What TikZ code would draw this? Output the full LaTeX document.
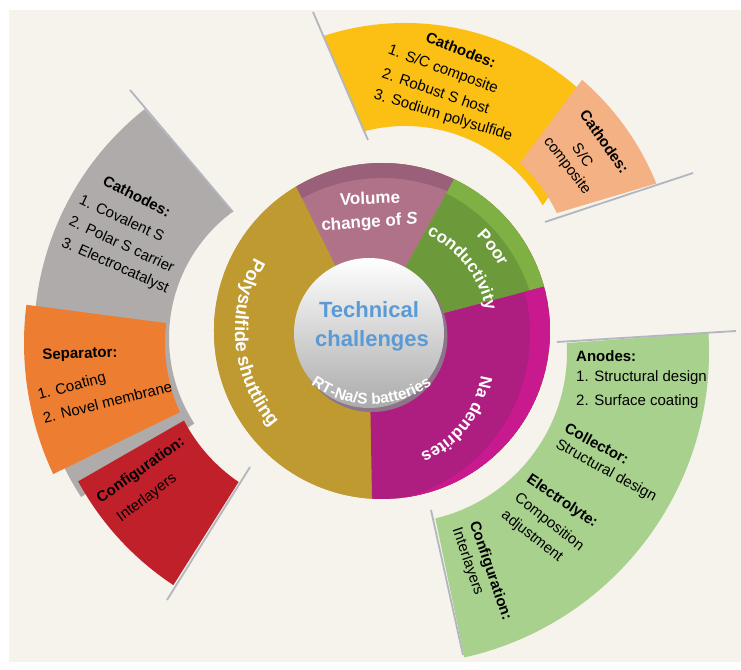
\documentclass[tikz,border=0pt]{standalone}
\usepackage{fontspec}
\setmainfont{Liberation Sans}
\usetikzlibrary{calc,decorations.text}
\definecolor{bg}{HTML}{F6F2EC}
\definecolor{cgold}{HTML}{BE9A30}
\definecolor{cmauve}{HTML}{B07288}
\definecolor{cmauveD}{HTML}{9A6079}
\definecolor{cgreenW}{HTML}{6C9A3B}
\definecolor{cgreenL}{HTML}{7EB044}
\definecolor{cmag}{HTML}{AE1D80}
\definecolor{cmagL}{HTML}{C9198F}
\definecolor{cyel}{HTML}{FBC013}
\definecolor{cpeach}{HTML}{F4B183}
\definecolor{cgray}{HTML}{AFABAB}
\definecolor{corange}{HTML}{ED7D31}
\definecolor{cred}{HTML}{C0202A}
\definecolor{cgreenB}{HTML}{A9D18E}
\definecolor{cline}{HTML}{B2B6BF}
\definecolor{cblue}{HTML}{5B9BD5}
\definecolor{crim}{HTML}{8D7488}
\definecolor{chubmid}{HTML}{E2E2E2}
\definecolor{chubbot}{HTML}{ABABAB}
\newcommand{\blockarc}[8]{\fill[#1] ($(#2)+(#5:#3)$) arc[start angle=#5,end angle=#6,radius=#3] -- ($(#2)+(#7:#4)$) arc[start angle=#7,end angle=#8,radius=#4] -- cycle;}
\newcommand{\wsector}[5]{\begin{scope}\clip (Ci) -- ($(Cw)+(#3:168)$) arc[start angle=#3,end angle=#4,radius=168] -- cycle;
\fill[#1] (Cw) circle[radius=170];
\fill[#2,even odd rule] (Cw) circle[radius=168] ($(Cw)+(#5)$) circle[radius=168];
\end{scope}}
\newcommand{\wfont}{\bfseries\fontsize{17}{20}\selectfont}
\newcommand{\curvetext}[6]{\path[decorate,decoration={text along path,text={|\bfseries\fontsize{#6}{20}\selectfont|#5},text align=center,text color=white}] ($(#1)+(#3:#2)$) arc[start angle=#3,end angle=#4,radius=#2];}
\begin{document}
\begin{tikzpicture}[x=1pt,y=1pt,
  blk/.style={font=\fontsize{15}{18}\selectfont, inner sep=0pt, text=black},
  blkb/.style={blk, font=\bfseries\fontsize{15}{18}\selectfont},
  wtxt/.style={font=\wfont, inner sep=0pt, text=white},
  gline/.style={draw=cline, line width=1.8pt}]
\useasboundingbox (0,0) rectangle (741,669);
\fill[white] (0,0) rectangle (741,669);
\fill[bg] (9,7) rectangle (741,659);
% centres
\coordinate (Cw) at (382,338);
\coordinate (Ci) at (369,336);
\coordinate (Ct) at (371.5,368.7);
\coordinate (Cn) at (382,308);
\coordinate (T) at (405,384);
\coordinate (Lg) at (326,331);
\coordinate (L) at (333,326);
\coordinate (G) at (396,317);
% line ends
\coordinate (l1a) at (130,579); \coordinate (l1b) at (233,457);
\coordinate (l2a) at (250,202); \coordinate (l2b) at (167,69);
\coordinate (l3a) at (313,657); \coordinate (l3b) at (368,529);
\coordinate (l4a) at (545,447); \coordinate (l4b) at (693,496);
\coordinate (l5a) at (557,327); \coordinate (l5b) at (736,338);
\coordinate (l6a) at (431,159); \coordinate (l6b) at (463,14);
% outer blocks
\blockarc{cgray}{Lg}{292}{157}{128.4}{213}{213}{126.4}
\blockarc{corange}{L}{309}{168}{172.9}{205.1}{204.3}{173.2}
\blockarc{cred}{L}{290}{168}{208.5}{236.6}{235.8}{207.5}
\blockarc{cyel}{T}{262}{159}{108}{40}{30}{105.2}
\blockarc{cpeach}{T}{271}{168}{22}{49.2}{46.7}{25.35}
\blockarc{cgreenB}{G}{313}{171}{-77.4}{3.5}{3.0}{-76.7}
% grey lines
\draw[gline] (l1a) -- (l1b);
\draw[gline] (l2a) -- (l2b);
\draw[gline] (l3a) -- (l3b);
\draw[gline] (l4a) -- (l4b);
\draw[gline] (l5a) -- (l5b);
\draw[gline] (l6a) -- (l6b);
% wheel
\fill[cgold] (Cw) circle[radius=168];
\wsector{cgold}{cgold}{120.7}{266.6}{0,0}
\wsector{cmauve}{cmauveD}{64.6}{120.7}{0,-15}
\wsector{cgreenW}{cgreenL}{15.3}{64.6}{-12,-12}
\wsector{cmag}{cmagL}{-93.4}{15.3}{-20,-4}
% hub
\fill[crim] ($(Ci)+(3,-3.5)$) circle[radius=75.5];
\shade[top color=white, middle color=chubmid, bottom color=chubbot] (Ci) circle[radius=75];
\node[font=\bfseries\fontsize{22}{26}\selectfont, text=cblue, inner sep=0pt, anchor=base] (tech) at (369,351) {Technical};
\node[font=\bfseries\fontsize{22}{26}\selectfont, text=cblue, inner sep=0pt, anchor=base] (chal) at (372,322) {challenges};
\path[decorate,decoration={text along path,text={|\bfseries\fontsize{15.5}{18}\selectfont|RT-Na/S batteries},text align=center,text color=white}] ($(Ct)+(190:104)$) arc[start angle=190,end angle=350,radius=104];
% wheel texts
\node[wtxt, rotate=2] (vol1) at (370,471) {Volume};
\node[wtxt, rotate=4] (vol2) at (369.5,446) {change of \textit{S}};
\curvetext{Cw}{147}{110}{261}{Polysulfide shuttling}{18.5}
\curvetext{Cw}{134}{87}{-13}{Poor}{17}
\curvetext{Cw}{106}{98}{-22}{conductivity}{17}
\curvetext{Cn}{100}{37}{-113}{Na dendrites}{17}
% yellow
\node[blkb, rotate=-21] (yc1) at (461,619) {Cathodes:};
\node[blk, rotate=-20] (yc2) at (443,599) {1. S/C composite};
\node[blk, rotate=-19] (yc3) at (436,578) {2. Robust S host};
\node[blk, rotate=-17] (yc4) at (443,553) {3. Sodium polysulfide};
% peach
\node[blkb, rotate=-55] (pc1) at (604.5,527.5) {Cathodes:};
\node[blk, rotate=-55] (pc2) at (583,514) {S/C};
\node[blk, rotate=-53] (pc3) at (567,503) {composite};
% gray
\node[blkb, rotate=-27] (gc1) at (137,473) {Cathodes:};
\node[blk, rotate=-25] (gc2) at (122,451) {1. Covalent S};
\node[blk, rotate=-25] (gc3) at (122,425) {2. Polar S carrier};
\node[blk, rotate=-24] (gc4) at (115,403) {3. Electrocatalyst};
% orange
\node[blkb, rotate=2] (os1) at (80,314.5) {Separator:};
\node[blk, rotate=15] (os2) at (72,282) {1. Coating};
\node[blk, rotate=14] (os3) at (107.5,267) {2. Novel membrane};
% red
\node[blkb, rotate=35] (rc1) at (141,198.5) {Configuration:};
\node[blk, rotate=37] (rc2) at (147,171) {Interlayers};
% green
\node[blkb, anchor=base west] (an1) at (576,307) {Anodes:};
\node[blk, anchor=base west] (an2) at (576,287) {1. Structural design};
\node[blk, anchor=base west] (an3) at (576,263.5) {2. Surface coating};
\node[blkb, rotate=-28] (co1) at (597,225.5) {Collector:};
\node[blk, rotate=-29] (co2) at (606,198) {Structural design};
\node[blkb, rotate=-34] (el1) at (562,167.5) {Electrolyte:};
\node[blk, rotate=-38] (el2) at (549,146.5) {Composition};
\node[blk, rotate=-38] (el3) at (532,132.5) {adjustment};
\node[blkb, rotate=-71] (cf1) at (490,98) {Configuration:};
\node[blk, rotate=-71] (cf2) at (467.5,107.5) {Interlayers};
\end{tikzpicture}
\end{document}
